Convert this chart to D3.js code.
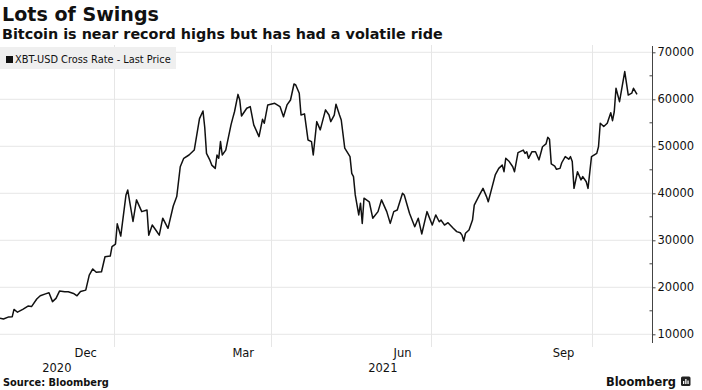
<!DOCTYPE html>
<html><head><meta charset="utf-8">
<script src="https://cdn.jsdelivr.net/npm/d3@7"></script>
<style>
html,body{margin:0;padding:0;background:#fff;}
svg{display:block;}
text{font-family:"DejaVu Sans",Verdana,sans-serif;fill:#111;}
</style></head>
<body><svg id="c" width="702" height="390"></svg>
<script>
const title = "Lots of Swings";
const subtitle = "Bitcoin is near record highs but has had a volatile ride";
const seriesName = "XBT-USD Cross Rate - Last Price";
const source = "Source: Bloomberg";
const yTicks = [10000, 20000, 30000, 40000, 50000, 60000, 70000];
const yMinorTicks = [15000, 25000, 35000, 45000, 55000, 65000];
const monthLabels = [["2020-12-16","Dec"],["2021-03-16","Mar"],["2021-06-15","Jun"],["2021-09-15","Sep"]];
const gridDates = ["2021-01-01","2021-04-01","2021-07-01","2021-10-01"];
const years = ["2020","2021"];
const dates = ["2020-10-28","2020-10-30","2020-11-02","2020-11-04","2020-11-05","2020-11-07","2020-11-10","2020-11-13","2020-11-15","2020-11-18","2020-11-20","2020-11-23","2020-11-25","2020-11-27","2020-11-29","2020-12-01","2020-12-04","2020-12-06","2020-12-09","2020-12-11","2020-12-13","2020-12-16","2020-12-18","2020-12-20","2020-12-22","2020-12-25","2020-12-27","2020-12-30","2020-12-31","2021-01-02","2021-01-03","2021-01-05","2021-01-08","2021-01-09","2021-01-12","2021-01-14","2021-01-17","2021-01-20","2021-01-21","2021-01-23","2021-01-25","2021-01-27","2021-01-29","2021-02-01","2021-02-04","2021-02-06","2021-02-08","2021-02-10","2021-02-13","2021-02-16","2021-02-19","2021-02-21","2021-02-22","2021-02-23","2021-02-25","2021-02-26","2021-02-28","2021-03-01","2021-03-02","2021-03-03","2021-03-04","2021-03-06","2021-03-09","2021-03-10","2021-03-11","2021-03-13","2021-03-14","2021-03-15","2021-03-18","2021-03-20","2021-03-22","2021-03-25","2021-03-27","2021-03-28","2021-03-30","2021-04-03","2021-04-06","2021-04-08","2021-04-10","2021-04-12","2021-04-14","2021-04-15","2021-04-17","2021-04-18","2021-04-20","2021-04-22","2021-04-24","2021-04-25","2021-04-27","2021-04-29","2021-05-02","2021-05-04","2021-05-05","2021-05-07","2021-05-08","2021-05-10","2021-05-11","2021-05-13","2021-05-16","2021-05-17","2021-05-18","2021-05-19","2021-05-21","2021-05-22","2021-05-23","2021-05-24","2021-05-27","2021-05-29","2021-06-01","2021-06-03","2021-06-06","2021-06-08","2021-06-10","2021-06-12","2021-06-15","2021-06-16","2021-06-19","2021-06-22","2021-06-24","2021-06-26","2021-06-29","2021-07-02","2021-07-04","2021-07-06","2021-07-07","2021-07-09","2021-07-11","2021-07-14","2021-07-16","2021-07-18","2021-07-19","2021-07-20","2021-07-21","2021-07-23","2021-07-25","2021-07-26","2021-07-29","2021-07-31","2021-08-02","2021-08-03","2021-08-05","2021-08-07","2021-08-09","2021-08-11","2021-08-12","2021-08-13","2021-08-15","2021-08-17","2021-08-18","2021-08-20","2021-08-23","2021-08-24","2021-08-25","2021-08-26","2021-08-28","2021-08-30","2021-09-01","2021-09-03","2021-09-05","2021-09-06","2021-09-07","2021-09-08","2021-09-10","2021-09-11","2021-09-13","2021-09-14","2021-09-16","2021-09-18","2021-09-19","2021-09-20","2021-09-21","2021-09-23","2021-09-25","2021-09-26","2021-09-28","2021-09-29","2021-10-01","2021-10-04","2021-10-05","2021-10-06","2021-10-08","2021-10-10","2021-10-12","2021-10-13","2021-10-14","2021-10-15","2021-10-17","2021-10-20","2021-10-22","2021-10-24","2021-10-25","2021-10-27"];
const prices = [13400,13250,13700,13750,15300,14700,15300,16000,15900,17500,18200,18600,18850,16950,17650,19200,19050,19050,18700,18200,19100,19400,22600,23900,23200,23300,26500,26650,28650,29200,33500,30900,39650,40700,34000,38600,36100,36450,31100,33250,32200,31100,34700,32550,37300,39300,45650,47450,48150,49200,55900,57500,54000,48500,47000,46000,45300,48150,47450,51000,48150,49200,54550,56000,57350,61050,59850,56450,58100,58450,54550,52050,55750,54900,58800,59150,58450,56300,58800,59850,63250,63050,61300,56650,56900,51350,51000,48150,55250,53500,57750,56650,55250,56650,58950,56650,55600,49600,47800,44250,43550,39650,35400,37900,33600,38950,38200,34700,36100,38600,36100,33600,36100,36450,40000,39650,35750,32900,34700,31350,36100,33250,35400,33950,34300,33250,33750,32550,31850,31600,31100,29850,31500,32200,34300,37500,39650,41050,39300,38200,41050,43900,45300,46000,44600,47450,46750,45650,44600,48650,49200,48500,48850,47450,48850,48850,47100,49900,50500,51900,51500,46250,45800,45100,45300,46500,47800,47250,47800,46750,41050,44600,42850,43550,42450,41050,47800,48500,49900,54900,54200,54900,57150,55450,57350,62350,59500,65900,60900,61300,62350,61050];

const parse = d3.utcParse("%Y-%m-%d");
const data = dates.map((d,i)=>({date:parse(d), value:prices[i]}));

const svg = d3.select("#c");
const plotLeft = 0, plotRight = 652, plotTop = 45, plotBottom = 347;
const x = d3.scaleUtc().domain([parse("2020-10-28"), parse("2021-11-04")]).range([0, 651]);
const y = d3.scaleLinear().domain([10000, 70000]).range([334.3, 52.3]);

function fitText(sel, w){
  const n = sel.node(); const l = n.getComputedTextLength();
  const fs = parseFloat(sel.attr("font-size"));
  sel.attr("font-size", (fs*w/l).toFixed(2));
}

// title & subtitle
fitText(svg.append("text").attr("x",2).attr("y",20.5).attr("font-size",19).attr("font-weight","bold").text(title), 157);
fitText(svg.append("text").attr("x",2).attr("y",39).attr("font-size",13.5).attr("font-weight","bold").text(subtitle), 441);

// gridlines
const g = svg.append("g");
g.selectAll("line.h").data(yTicks).join("line")
  .attr("x1",plotLeft).attr("x2",plotRight).attr("y1",d=>y(d)).attr("y2",d=>y(d))
  .attr("stroke","#e6e6e6").attr("stroke-width",1);
g.selectAll("line.v").data(gridDates).join("line")
  .attr("x1",d=>Math.round(x(parse(d)))+0.5).attr("x2",d=>Math.round(x(parse(d)))+0.5)
  .attr("y1",plotTop).attr("y2",plotBottom)
  .attr("stroke","#e6e6e6").attr("stroke-width",1);

// legend
svg.append("rect").attr("x",0).attr("y",47).attr("width",176).attr("height",22).attr("fill","#efefef");
svg.append("rect").attr("x",6).attr("y",56).attr("width",7).attr("height",7).attr("fill","#111");
fitText(svg.append("text").attr("x",15).attr("y",62.7).attr("font-size",11).text(seriesName), 156);

// line
const line = d3.line().x(d=>x(d.date)).y(d=>y(d.value));
svg.append("path").datum(data).attr("d",line).attr("fill","none")
  .attr("stroke","#111").attr("stroke-width",1.5).attr("stroke-linejoin","round");

// right axis
const axis = d3.axisRight(y).tickValues(yTicks).tickSize(3).tickPadding(2).tickFormat(d3.format("d"));
const ag = svg.append("g").attr("transform","translate(652.5,0)").call(axis);
ag.select(".domain").remove();
ag.selectAll(".tick line").attr("stroke","#444");
ag.selectAll(".tick text").attr("font-size",11.5).attr("font-family","DejaVu Sans, Verdana, sans-serif").attr("fill","#222");
ag.append("line").attr("x1",0).attr("x2",0).attr("y1",46).attr("y2",343).attr("stroke","#444").attr("stroke-width",1);
ag.selectAll("line.minor").data(yMinorTicks).join("line").attr("class","minor")
  .attr("x1",-3).attr("x2",0).attr("y1",d=>y(d)).attr("y2",d=>y(d)).attr("stroke","#444");

// bottom labels
svg.selectAll("text.m").data(monthLabels).join("text").attr("class","m")
  .attr("x",d=>x(parse(d[0]))).attr("y",356.7).attr("text-anchor","middle")
  .attr("font-size",11.5).attr("fill","#222").text(d=>d[1]);
const yearExt = [[x.range()[0], x(parse("2021-01-01"))],[x(parse("2021-01-01")), plotRight]];
svg.selectAll("text.yr").data(years).join("text").attr("class","yr")
  .attr("x",(d,i)=>(yearExt[i][0]+yearExt[i][1])/2).attr("y",371.7).attr("text-anchor","middle")
  .attr("font-size",11.5).attr("fill","#222").text(d=>d);

// source
fitText(svg.append("text").attr("x",3).attr("y",385.7).attr("font-size",9.5).attr("font-weight","bold").text(source), 106);

// logo
const lt = svg.append("text").attr("x",606).attr("y",386).attr("font-size",13)
  .attr("font-family","Liberation Sans, Arial, sans-serif").attr("font-weight","bold").text("Bloomberg");
fitText(lt, 70);
svg.append("rect").attr("x",681).attr("y",376.5).attr("width",9.5).attr("height",9.5).attr("rx",1.5).attr("fill","#222");
svg.selectAll("rect.bar").data([[683,381,1.3,3],[685.2,379,1.3,5],[687.4,380.5,1.3,3.5]]).join("rect").attr("class","bar")
  .attr("x",d=>d[0]).attr("y",d=>d[1]).attr("width",d=>d[2]).attr("height",d=>d[3]).attr("fill","#fff");
</script></body></html>
